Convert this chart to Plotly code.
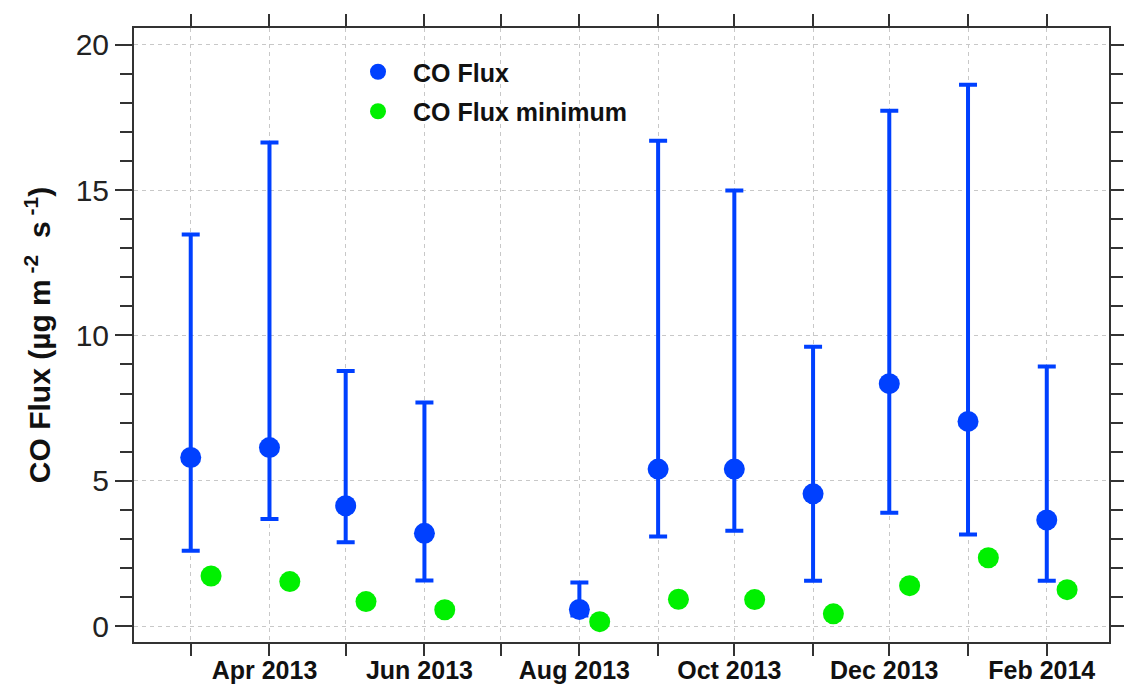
import plotly.graph_objects as go

# ---- data ----
months = ["2013-03-01", "2013-04-01", "2013-05-01", "2013-06-01", "2013-08-01",
          "2013-09-01", "2013-10-01", "2013-11-01", "2013-12-01", "2014-01-01", "2014-02-01"]
min_dates = ["2013-03-09", "2013-04-09", "2013-05-09", "2013-06-09", "2013-08-09",
             "2013-09-09", "2013-10-09", "2013-11-09", "2013-12-09", "2014-01-09", "2014-02-09"]
co_flux = [5.80, 6.14, 4.14, 3.19, 0.57, 5.40, 5.40, 4.55, 8.34, 7.04, 3.65]
co_upper = [13.47, 16.64, 8.78, 7.69, 1.50, 16.70, 14.99, 9.61, 17.73, 18.63, 8.93]
co_lower = [2.59, 3.68, 2.88, 1.57, 0.36, 3.08, 3.28, 1.56, 3.90, 3.15, 1.56]
co_flux_min = [1.72, 1.53, 0.84, 0.56, 0.15, 0.92, 0.91, 0.42, 1.39, 2.35, 1.25]

y_ticks = [0, 5, 10, 15, 20]

err_plus = [u - v for u, v in zip(co_upper, co_flux)]
err_minus = [v - l for v, l in zip(co_flux, co_lower)]

BLUE = "#0040ff"
GREEN = "#00f000"
AXC = "#333333"
GRIDC = "#c8c8c8"
FONT = "Arial, Liberation Sans, sans-serif"

fig = go.Figure()
fig.add_trace(go.Scatter(
    x=months, y=co_flux, mode="markers", name="CO Flux",
    legendgroup="a",
    marker=dict(color=BLUE, size=21),
    error_y=dict(type="data", symmetric=False, array=err_plus, arrayminus=err_minus,
                 color=BLUE, thickness=4, width=9),
))
fig.add_trace(go.Scatter(
    x=min_dates, y=co_flux_min, mode="markers", name="CO Flux minimum",
    legendgroup="b",
    marker=dict(color=GREEN, size=21),
))

fig.update_layout(
    width=1124, height=690,
    margin=dict(l=134, r=15, t=28, b=48),
    paper_bgcolor="white", plot_bgcolor="white",
    font=dict(family=FONT, color="#111111"),
    showlegend=True,
    legend=dict(
        x=(343 - 134) / 975, y=(690 - 48 - 49) / 614, xref="paper", yref="paper",
        xanchor="left", yanchor="top",
        bgcolor="rgba(255,255,255,0)", borderwidth=0,
        font=dict(size=25, family=FONT, color="#111111", weight="bold"),
        tracegroupgap=4, itemwidth=60,
    ),
)

fig.update_xaxes(
    type="date", automargin=False,
    range=["2013-02-06 16:00", "2014-02-25 12:00"],
    tick0="2013-04-01", dtick="M2", tickformat="%b %Y",
    ticks="outside", ticklen=12, tickwidth=2, tickcolor=AXC,
    tickfont=dict(size=25, family=FONT, color="#111111", weight="bold"),
    ticklabelstandoff=-7, ticklabelshift=-5,
    showline=True, linecolor=AXC, linewidth=2, mirror="allticks",
    showgrid=True, gridcolor=GRIDC, gridwidth=1, griddash="4px,4px",
    minor=dict(dtick="M1", tick0="2013-03-01", ticks="outside", ticklen=12, tickwidth=2,
               tickcolor=AXC, showgrid=True, gridcolor=GRIDC, gridwidth=1, griddash="4px,4px"),
    zeroline=False,
)
fig.update_yaxes(
    automargin=False,
    range=[-0.55, 20.58],
    tickvals=y_ticks,
    ticks="outside", ticklen=17, tickwidth=2, tickcolor=AXC,
    tickfont=dict(size=30, family=FONT, color="#222222"),
    showline=True, linecolor=AXC, linewidth=2, mirror="allticks",
    showgrid=True, gridcolor=GRIDC, gridwidth=1, griddash="4px,4px",
    minor=dict(dtick=1, tick0=0, ticks="outside", ticklen=12, tickwidth=2, tickcolor=AXC,
               showgrid=False),
    zeroline=False,
    title=dict(text="CO Flux (µg m<sup> -2</sup>  s<sup> -1</sup>)",
               font=dict(size=30, family=FONT, color="#111111", weight="bold"),
               standoff=16),
)

fig.write_html("out.html")
